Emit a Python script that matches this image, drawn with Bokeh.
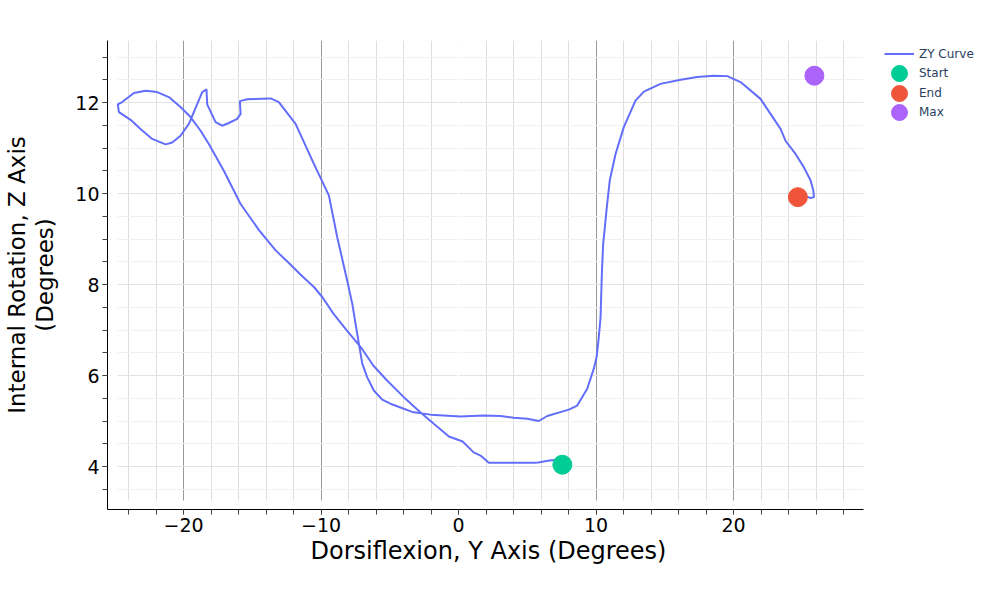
from bokeh.plotting import figure
from bokeh.models import Range1d, FixedTicker, Span, Legend, LegendItem, BoxAnnotation, Title
from bokeh.embed import file_html
from bokeh.resources import INLINE

# ZY curve: dorsiflexion (Y axis) vs internal rotation (Z axis), degrees
dorsi = [7.3, 6.6, 5.8, 5.5, 3.5, 2.2, 1.6, 1.1, 0.3, -0.7, -1.8, -2.8, -4.0,
         -5.2, -6.2, -7.1, -8.2, -9.1, -9.9, -10.5, -11.5, -12.3, -13.3, -14.5,
         -15.85, -17.07, -18.16, -18.76, -19.49, -20.22, -21.07, -21.92, -22.76,
         -23.61, -24.46, -24.78, -24.7, -23.85, -23.13, -22.28, -21.31, -20.82,
         -20.22, -19.61, -19.0, -18.64, -18.33, -18.28, -17.67, -17.19, -16.7,
         -16.1, -15.85, -15.9, -15.37, -13.67, -13.07, -11.85, -10.52, -9.43,
         -8.82, -8.1, -7.73, -7.25, -7.0, -6.64, -6.16, -5.55, -4.95, -3.98,
         -3.37, -2.04, 0.15, 1.84, 3.05, 4.02, 5.0, 5.84, 6.45, 8.02, 8.63, 9.36,
         9.84, 10.04, 10.2, 10.33, 10.42, 10.52, 10.62, 10.76, 11.0, 11.42, 12.02,
         12.87, 13.48, 14.69, 16.15, 17.36, 18.57, 19.55, 20.51, 21.96, 22.69,
         23.42, 23.78, 24.51, 25.11, 25.6, 25.8, 25.85, 25.6, 25.36]
rotation = [4.15, 4.13, 4.09, 4.08, 4.08, 4.08, 4.24, 4.31, 4.55, 4.66, 4.94, 5.2,
            5.53, 5.89, 6.22, 6.62, 7.02, 7.36, 7.72, 7.94, 8.22, 8.46, 8.75, 9.19,
            9.77, 10.5, 11.09, 11.38, 11.68, 11.9, 12.12, 12.23, 12.26, 12.21,
            12.01, 11.96, 11.79, 11.62, 11.42, 11.2, 11.08, 11.12, 11.27, 11.53,
            11.97, 12.23, 12.29, 11.96, 11.57, 11.49, 11.55, 11.64, 11.75, 12.03,
            12.07, 12.09, 12.01, 11.53, 10.65, 9.96, 9.04, 8.09, 7.58, 6.7, 6.26,
            5.96, 5.67, 5.47, 5.38, 5.27, 5.2, 5.14, 5.1, 5.12, 5.11, 5.07, 5.05,
            5.0, 5.11, 5.25, 5.34, 5.71, 6.15, 6.4, 6.84, 7.28, 8.2, 8.9, 9.19,
            9.63, 10.29, 10.87, 11.46, 12.04, 12.24, 12.41, 12.5, 12.56, 12.59,
            12.58, 12.45, 12.08, 11.75, 11.42, 11.16, 10.87, 10.58, 10.29, 10.07,
            9.92, 9.9, 9.93]

start_x, start_y = [7.55], [4.04]
end_x, end_y = [24.68], [9.92]
max_x, max_y = [25.88], [12.59]

x_major = [-20, -10, 0, 10, 20]
y_major = [4, 6, 8, 10, 12]

FONT = "DejaVu Sans"
X0, X1 = -25.53, 29.45   # visible x axis
Y0, Y1 = 3.055, 13.363

# frame runs on past the axis end so the legend can sit to the right
p = figure(width=984, height=584, output_backend="svg", toolbar_location=None,
           x_range=Range1d(X0, 37.89), y_range=Range1d(Y0, Y1),
           min_border_left=107, min_border_right=5, min_border_top=40,
           min_border_bottom=75)
p.outline_line_color = None

# grid: minor lines every 2 (x) / 0.5 (y)
xt = FixedTicker(ticks=x_major, minor_ticks=[v * 2 for v in range(-12, 15)])
yt = FixedTicker(ticks=y_major, minor_ticks=[v * 0.5 for v in range(7, 27)])
p.xaxis.ticker = xt
p.xgrid.ticker = xt
p.yaxis.ticker = yt
p.ygrid.ticker = yt
p.xgrid.grid_line_color = "#9a9a9a"
p.xgrid.minor_grid_line_color = "#dedede"
p.ygrid.grid_line_color = "#e3e3e3"
p.ygrid.minor_grid_line_color = "#f1f1f1"
p.add_layout(Span(location=0, dimension="height", line_color="white",
                  line_width=2, level="underlay"))
# white gaps between axis lines and grid, and blank area right of the plot
for box in (BoxAnnotation(left=X1), BoxAnnotation(right=-24.8), BoxAnnotation(top=3.253)):
    box.fill_color = "white"
    box.fill_alpha = 1
    box.line_alpha = 0
    box.level = "underlay"
    p.add_layout(box)

for ax in (p.xaxis, p.yaxis):
    ax.major_tick_out = 5
    ax.minor_tick_out = 5
    ax.major_tick_in = 0
    ax.minor_tick_in = 0
    ax.major_tick_line_color = "#444444"
    ax.minor_tick_line_color = "#444444"
    ax.axis_line_color = "black"
    ax.major_label_text_font = FONT
    ax.major_label_text_font_size = "19px"
    ax.major_label_text_color = "black"
    ax.major_label_standoff = 3
    ax.axis_label_text_font = FONT
    ax.axis_label_text_font_size = "23px"
    ax.axis_label_text_font_style = "normal"
    ax.axis_label_text_color = "black"

p.xaxis.bounds = (X0, X1)
p.xaxis.major_label_overrides = {v: str(v).replace("-", "\u2212") for v in x_major}
p.yaxis.axis_label = "Internal Rotation, Z Axis\n(Degrees)"
p.yaxis.axis_label_standoff = 14
p.yaxis.axis_label_text_line_height = 1.1

# x title centred under the visible axis, not the whole frame
xtitle = Title(text="Dorsiflexion, Y Axis (Degrees)", align="left", offset=203,
               text_font=FONT, text_font_size="24px", text_font_style="normal",
               text_color="black", standoff=0)
p.add_layout(xtitle, "below")

curve = p.line(dorsi, rotation, line_color="#636efa", line_width=2)
s = p.scatter(start_x, start_y, size=19, color="#00cc96")
e = p.scatter(end_x, end_y, size=19, color="#ef553b")
m = p.scatter(max_x, max_y, size=19, color="#ab63fa")

legends = [Legend(items=[LegendItem(label="ZY Curve", renderers=[curve])],
                  location=(777, 446), glyph_width=30, glyph_height=19,
                  label_height=19, label_standoff=5)]
for lab, r, vy in (("Start", s, 416), ("End", e, 396), ("Max", m, 377)):
    legends.append(Legend(items=[LegendItem(label=lab, renderers=[r])],
                          location=(772, vy), glyph_width=40, glyph_height=40,
                          label_height=19, label_standoff=0))
for leg in legends:
    leg.padding = 0
    leg.margin = 0
    leg.spacing = 0
    leg.border_line_alpha = 0
    leg.background_fill_alpha = 0
    leg.label_text_font = FONT
    leg.label_text_font_size = "12px"
    leg.label_text_color = "#2a3f5f"
    p.add_layout(leg, "center")

open("out.html", "w").write(file_html(p, INLINE))
